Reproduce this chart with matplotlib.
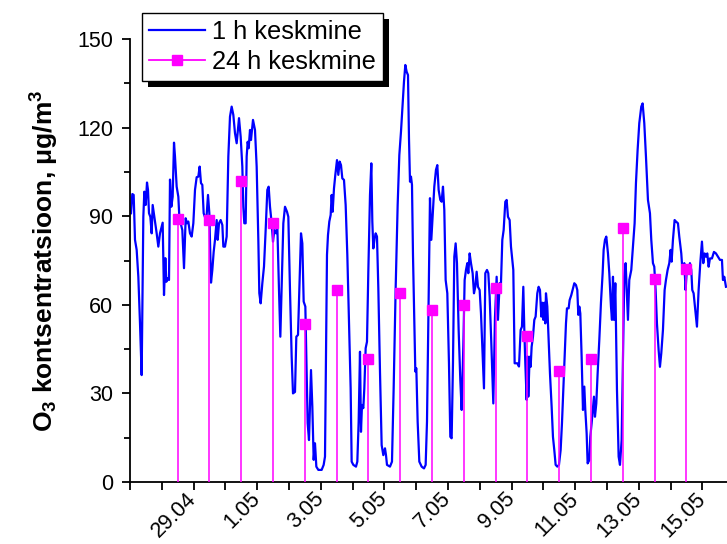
import numpy as np
import matplotlib.pyplot as plt
from matplotlib.lines import Line2D
from matplotlib.patches import Rectangle
from matplotlib.transforms import IdentityTransform

plt.rcParams['font.family'] = ['Liberation Sans', 'DejaVu Sans']
plt.rcParams['mathtext.fontset'] = 'custom'
plt.rcParams['mathtext.rm'] = 'Liberation Sans:bold'
plt.rcParams['mathtext.it'] = 'Liberation Sans:bold'
plt.rcParams['mathtext.bf'] = 'Liberation Sans:bold'

# hourly ozone, hours counted from 27.04 00:00
hours_1h = [
    0.75, 1.76, 2.77, 3.77, 5.03, 6.29, 7.55, 8.80, 10.06, 10.82, 11.82, 12.83, 13.58, 14.34,
    15.35, 16.35, 17.11, 18.37, 20.13, 21.38, 22.64, 23.90, 24.65, 25.66, 26.67, 27.42, 28.43,
    29.44, 30.19, 31.19, 32.20, 33.21, 33.96, 35.22, 36.48, 37.23, 38.24, 39.50, 40.76, 42.01,
    43.02, 44.03, 45.28, 46.54, 47.80, 49.06, 50.31, 51.57, 52.58, 53.58, 54.59, 55.60, 56.86,
    57.86, 58.87, 59.88, 61.14, 62.14, 63.15, 64.16, 65.42, 66.17, 67.18, 68.44, 69.70, 70.45,
    71.71, 72.96, 74.22, 75.47, 76.73, 77.99, 79.25, 80.51, 82.27, 83.53, 84.78, 85.54, 86.29,
    87.30, 88.05, 88.81, 89.56, 90.57, 91.32, 92.83, 94.34, 95.60, 96.86, 97.61, 98.62, 99.88,
    101.14, 102.39, 103.65, 104.66, 105.67, 106.92, 107.93, 108.94, 110.20, 111.20, 112.46,
    113.47, 114.47, 115.73, 116.99, 118.50, 119.50, 120.76, 122.02, 123.03, 124.54, 125.54,
    126.80, 128.06, 129.06, 130.07, 131.08, 132.34, 133.09, 134.10, 135.10, 136.61, 137.62,
    138.63, 139.63, 140.64, 142.15, 144.66, 146.17, 147.18, 147.92, 148.68, 149.43, 150.44,
    151.45, 152.20, 152.96, 153.96, 154.97, 156.23, 157.23, 158.24, 159.25, 160.25, 161.51,
    162.77, 164.03, 165.29, 166.54, 167.30, 168.56, 170.57, 171.58, 172.58, 173.59, 174.34,
    175.10, 176.10, 176.86, 177.87, 178.87, 179.88, 181.14, 182.14, 182.90, 183.65, 184.66,
    185.41, 186.42, 187.43, 188.68, 189.94, 191.20, 192.46, 193.21, 193.97, 196.23, 197.74,
    199.00, 200.51, 202.02, 203.28, 204.53, 205.79, 206.80, 207.80, 208.81, 209.82, 210.57,
    211.33, 212.08, 212.84, 213.59, 214.60, 215.35, 216.11, 217.11, 218.37, 220.13, 221.90,
    223.15, 224.16, 225.17, 226.42, 227.42, 228.43, 229.68, 230.94, 231.95, 232.96, 234.21,
    235.22, 236.23, 237.23, 238.24, 239.50, 240.75, 241.76, 242.77, 243.77, 244.78, 245.79,
    246.79, 248.05, 249.31, 250.32, 251.57, 252.58, 253.59, 254.59, 255.35, 256.35, 257.36,
    258.62, 259.62, 260.63, 261.64, 262.64, 263.90, 264.91, 266.17, 267.17, 268.18, 269.44,
    270.44, 271.45, 272.71, 274.22, 275.47, 276.73, 277.74, 278.99, 280.00, 281.01, 282.02,
    283.27, 284.28, 285.28, 286.54, 287.55, 288.56, 289.31, 290.32, 292.33, 293.59, 294.85,
    295.85, 296.86, 297.62, 298.37, 299.38, 300.13, 300.63, 301.63, 302.39, 303.14, 304.15,
    305.16, 306.16, 307.42, 308.43, 309.43, 310.44, 311.19, 311.95, 312.70, 313.46, 313.96,
    314.97, 315.97, 316.98, 318.24, 319.24, 320.25, 321.26, 322.52, 323.77, 325.03, 326.04,
    327.04, 328.05, 329.06, 329.81, 331.07, 331.82, 333.08, 334.34, 335.35, 336.60, 337.61,
    338.37, 339.12, 339.88, 340.88, 341.89, 342.90, 343.65, 344.66, 345.41, 346.67, 347.42,
    348.43, 349.18, 350.19, 350.95, 351.95, 352.96, 354.22, 355.47, 356.73, 357.49, 358.49,
    359.50, 360.76, 361.77, 363.02, 363.78, 364.53, 365.29, 366.30, 367.55, 368.81, 369.82,
    371.07, 372.08, 373.09, 374.09, 375.84, 376.85, 378.35, 379.61, 380.87, 381.88, 383.13,
    384.39, 385.90, 386.91, 388.17, 389.43, 390.94, 392.45, 393.45, 394.71, 395.71, 396.72,
    397.73, 398.99, 399.99, 401.00, 402.26, 403.52, 404.52, 405.78, 407.04, 408.04, 408.80,
    409.80, 411.06, 412.07, 413.58, 414.58, 416.09, 417.10, 418.36, 419.36, 420.12, 421.38,
    422.63, 423.64, 424.39, 425.40, 426.66, 427.92, 429.17, 430.43, 431.69, 432.70, 433.70,
    434.71, 435.72, 436.73, 437.73, 439.24, 440.75, 442.26, 443.77, 445.28, 446.79, 447.54,
    448.55, 449.81]
o3_1h = [
    91.0, 97.5, 97.2, 82.0, 78.6, 69.5, 53.7, 36.2, 89.8, 98.3, 93.8, 101.4, 98.9, 91.0,
    89.8, 84.2, 93.8, 89.8, 84.2, 79.7, 84.2, 86.5, 87.8, 63.3, 75.8, 67.8, 69.0,
    68.4, 102.4, 93.2, 96.6, 114.9, 110.2, 100.0, 96.6, 89.8, 87.6, 85.3, 72.4, 89.3,
    87.6, 88.2, 84.2, 83.1, 87.6, 98.9, 103.2, 103.4, 106.8, 101.2, 100.6, 91.0, 89.3,
    90.4, 97.2, 91.0, 67.5, 71.8, 77.9, 82.0, 88.7, 82.0, 87.6, 88.7, 87.0, 79.7,
    79.7, 83.1, 110.2, 123.7, 127.1, 124.3, 118.1, 114.7, 123.2, 116.9, 106.8, 93.2, 87.6,
    87.6, 110.2, 115.2, 113.0, 119.2, 115.8, 122.6, 119.2, 106.8, 82.0, 63.9, 60.5, 67.3,
    73.0, 85.3, 98.9, 100.0, 93.2, 87.6, 81.4, 85.3, 84.2, 86.5, 65.0,
    49.2, 66.6, 87.6, 93.2, 91.5, 89.8, 65.0, 42.4, 30.0, 30.5, 49.2,
    49.8, 68.4, 84.2, 80.8, 61.1, 59.4, 42.4, 19.9, 14.2, 37.9, 25.5,
    7.5, 13.1, 5.2, 4.1, 4.1, 5.8, 8.6, 43.0, 76.9, 83.6, 88.2,
    90.4, 97.2, 91.5, 99.4, 104.0, 109.0, 104.0, 108.5, 107.3, 102.8, 102.3,
    93.8, 76.9, 54.3, 31.7, 6.9, 5.8, 5.2, 6.9, 20.4, 44.1, 17.0,
    26.1, 25.0, 31.7, 45.3, 47.5, 71.2, 97.2, 107.9, 88.2, 79.1, 82.5,
    84.2, 83.1, 65.6, 37.4, 12.5, 9.1, 11.4, 9.1, 5.8, 5.2, 6.9,
    31.7, 65.6, 93.8, 110.7, 118.6, 127.7, 135.6, 141.2, 138.9, 137.8, 116.4,
    101.7, 103.4, 100.6, 76.9, 54.3, 37.4, 38.5, 20.4, 6.9, 5.2, 4.6,
    5.8, 20.4, 54.3, 96.1, 82.0, 89.8, 100.0, 105.7, 107.3, 98.9, 95.5,
    94.9, 100.0, 92.1, 68.4, 63.9, 40.2, 15.3, 14.8, 40.2, 76.3, 80.8,
    74.1, 51.5, 34.5, 24.4, 45.8, 68.4, 71.8, 74.1, 70.7, 77.4, 74.1,
    70.7, 63.9, 66.1, 71.2, 66.1, 65.0, 57.1, 42.5, 31.7, 70.7, 71.8,
    70.7, 62.7, 47.0, 26.6, 55.7, 69.5, 54.9, 67.3, 67.3, 82.0, 85.3,
    94.9, 95.5, 89.8, 88.7, 79.7, 75.2, 71.8, 40.2, 40.2, 39.1, 51.5,
    52.6, 66.1, 51.5, 40.2, 27.8, 42.5, 28.9, 42.4, 39.0, 45.8, 49.2,
    54.9, 56.0, 63.9, 66.1, 65.0, 56.0, 60.7, 54.9, 60.7, 53.7, 63.9,
    59.4, 48.1, 36.8, 25.5, 15.3, 10.8, 5.8, 5.2, 5.8, 10.8, 19.9,
    31.2, 42.4, 53.7, 58.8, 58.8, 61.6, 63.3, 65.6, 67.3, 66.7, 65.0,
    56.6, 59.4, 57.1, 42.4, 24.4, 32.3, 24.4, 16.5, 6.3, 7.4, 15.3,
    19.9, 23.8, 28.9, 22.1, 26.6, 36.8, 48.1, 60.7, 70.7, 78.6, 82.0,
    83.1, 77.4, 70.7, 59.4, 54.9, 69.5, 54.9, 67.3, 31.2, 8.6, 5.8,
    14.2, 42.4, 69.5, 74.1, 54.9, 68.4, 71.8, 79.7, 87.6, 101.2, 112.4,
    121.5, 127.1, 128.2, 121.5, 110.2, 95.5, 91.0, 82.0, 74.1, 72.9, 65.0,
    53.7, 44.7, 39.0, 43.6, 51.5, 65.0, 68.4, 71.8, 74.1, 78.6, 74.6,
    82.0, 88.7, 88.2, 87.6, 83.1, 77.4, 70.7, 74.1, 65.0, 70.7, 70.7,
    74.1, 71.8, 65.0, 63.9, 58.2, 52.6, 65.0, 74.1, 81.4, 74.1, 77.4,
    76.3, 77.4, 72.9, 75.7, 75.7, 77.9, 77.4, 76.3, 75.2, 75.2, 68.4,
    69.5, 66.1]

# daily means, plotted at noon of 28.04 ... 14.05
hours_24h = [36 + 24 * i for i in range(17)]
o3_24h = [89.0, 88.7, 102.0, 87.6, 53.6, 65.0, 41.6, 63.9, 58.2, 59.9, 65.6,
          49.5, 37.6, 41.8, 85.9, 68.8, 72.2]

label_days = [2, 4, 6, 8, 10, 12, 14, 16, 18]
day_labels = ['29.04', '1.05', '3.05', '5.05', '7.05', '9.05', '11.05', '13.05', '15.05']

days_1h = np.array(hours_1h) / 24
days_24h = np.array(hours_24h) / 24

fig = plt.figure(figsize=(7.27, 5.44), dpi=100)
ax = fig.add_axes([130/727, 62/544, 597/727, 443/544])

ax.plot(days_1h, o3_1h, color='#0000ff', lw=1.6, zorder=2)
ax.vlines(days_24h, 0, o3_24h, color='#ff00ff', lw=1.1, zorder=3)
ax.plot(days_24h, o3_24h, 's', color='#ff00ff', ms=7.5, zorder=4)

ax.set_xlim(0, 18.775)
ax.set_ylim(0, 150)
ax.set_yticks(np.arange(0, 151, 30))
ax.set_yticks(np.arange(15, 150, 30), minor=True)
ax.set_xticks(label_days, day_labels)
ax.set_xticks(np.arange(0, 19), minor=True)
for s in ['top', 'right']:
    ax.spines[s].set_visible(False)
for s in ['left', 'bottom']:
    ax.spines[s].set_linewidth(1.3)
ax.tick_params(axis='both', which='both', direction='out', width=1.3, labelsize=15.5, pad=4)
ax.tick_params(axis='y', which='major', pad=6)
ax.tick_params(axis='both', which='major', length=6)
ax.tick_params(axis='x', which='minor', length=6)
ax.tick_params(axis='y', which='minor', length=4)
plt.setp(ax.get_xticklabels(), rotation=45, ha='right', va='center', rotation_mode='anchor')

ax.set_ylabel(r'O$_3$ kontsentratsioon, μg/m$^3$', fontsize=19, fontweight='bold', labelpad=12)

handles = [Line2D([], [], color='#0000ff', lw=1.6),
           Line2D([], [], color='#ff00ff', lw=1.3, marker='s', ms=7.5)]
leg = ax.legend(handles, ['1 h keskmine', '24 h keskmine'], loc='upper left',
                bbox_to_anchor=(141.7/727, 1 - 12.7/544), bbox_transform=fig.transFigure,
                borderaxespad=0, fontsize=18.3, fancybox=False, framealpha=1,
                edgecolor='black', handlelength=2.2, handletextpad=0.3,
                labelspacing=0.25, borderpad=0.28)
leg.get_frame().set_linewidth(1.0)

# black drop shadow behind the legend box
fig.canvas.draw()
bb = leg.get_window_extent()
ax.add_patch(Rectangle((bb.x0 + 6, bb.y0 - 6), bb.width, bb.height, transform=IdentityTransform(),
                       facecolor='black', edgecolor='none', zorder=4.9, clip_on=False))

fig.savefig('out.png', dpi=100)
